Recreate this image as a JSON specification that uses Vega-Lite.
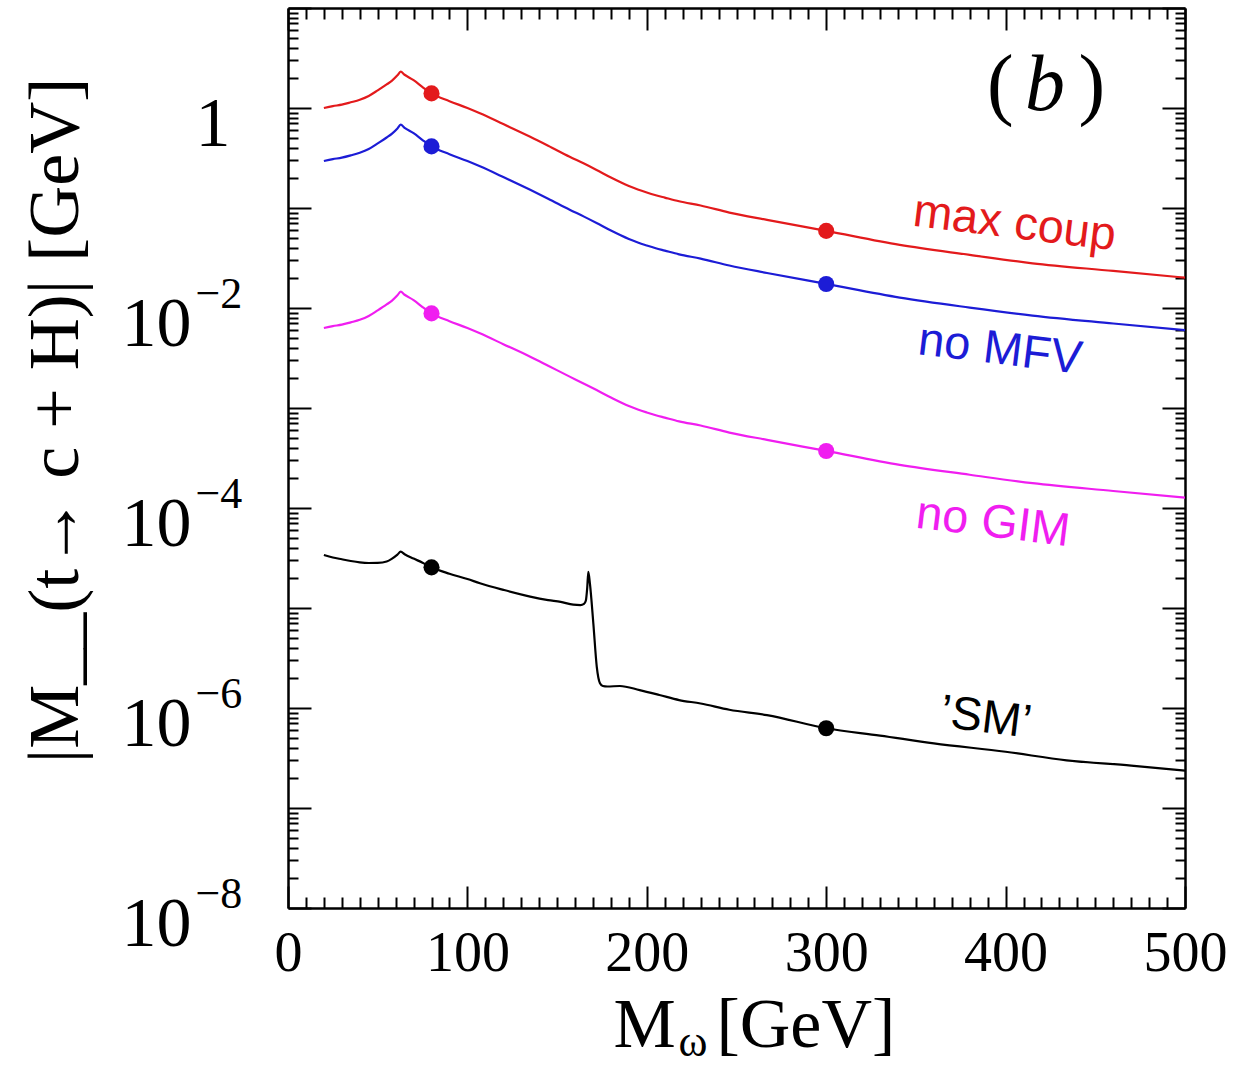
{
"$schema": "https://vega.github.io/schema/vega-lite/v6.json",
"width": 897, "height": 900,
"autosize": {"type": "none"},
"padding": {"left": 288, "top": 8, "right": 64, "bottom": 158},
"background": "white",
"config": {"view": {"stroke": null},
  "axis": {"grid": false, "domainColor": "black", "tickColor": "black", "tickWidth": 2, "domainWidth": 2.5, "labelColor": "black", "titleColor": "black", "labelFont": "Liberation Serif", "titleFont": "Liberation Serif", "titleFontWeight": "normal", "labelOverlap": false, "labelFlush": false, "labelBound": false}},
"datasets": {
 "curves": [
  {"s":"max coup","m":20,"v":1.0},{"s":"max coup","m":25,"v":1.045},{"s":"max coup","m":30,"v":1.08},{"s":"max coup","m":35,"v":1.14},{"s":"max coup","m":40,"v":1.21},{"s":"max coup","m":45,"v":1.32},{"s":"max coup","m":50,"v":1.5},{"s":"max coup","m":55,"v":1.72},{"s":"max coup","m":58,"v":1.88},{"s":"max coup","m":61,"v":2.12},{"s":"max coup","m":62.8,"v":2.31},{"s":"max coup","m":65,"v":2.15},{"s":"max coup","m":70,"v":1.9},{"s":"max coup","m":75,"v":1.62},{"s":"max coup","m":80,"v":1.4},{"s":"max coup","m":90,"v":1.17},{"s":"max coup","m":100,"v":1.0},{"s":"max coup","m":107,"v":0.885},{"s":"max coup","m":120,"v":0.69},{"s":"max coup","m":135,"v":0.516},{"s":"max coup","m":145,"v":0.42},{"s":"max coup","m":157,"v":0.326},{"s":"max coup","m":165,"v":0.278},{"s":"max coup","m":172,"v":0.24},{"s":"max coup","m":180,"v":0.2018},{"s":"max coup","m":190,"v":0.166},{"s":"max coup","m":195,"v":0.1531},{"s":"max coup","m":200,"v":0.1429},{"s":"max coup","m":205,"v":0.1343},{"s":"max coup","m":210,"v":0.1271},{"s":"max coup","m":218,"v":0.1167},{"s":"max coup","m":230,"v":0.1059},{"s":"max coup","m":246,"v":0.09},{"s":"max coup","m":267,"v":0.076},{"s":"max coup","m":300,"v":0.059},{"s":"max coup","m":341,"v":0.0427},{"s":"max coup","m":380,"v":0.034},{"s":"max coup","m":415,"v":0.028},{"s":"max coup","m":460,"v":0.0235},{"s":"max coup","m":500,"v":0.0201},
  {"s":"no MFV","m":20,"v":0.295},{"s":"no MFV","m":25,"v":0.308},{"s":"no MFV","m":30,"v":0.319},{"s":"no MFV","m":35,"v":0.336},{"s":"no MFV","m":40,"v":0.357},{"s":"no MFV","m":45,"v":0.389},{"s":"no MFV","m":50,"v":0.443},{"s":"no MFV","m":55,"v":0.507},{"s":"no MFV","m":58,"v":0.555},{"s":"no MFV","m":61,"v":0.625},{"s":"no MFV","m":62.8,"v":0.681},{"s":"no MFV","m":65,"v":0.634},{"s":"no MFV","m":70,"v":0.56},{"s":"no MFV","m":75,"v":0.478},{"s":"no MFV","m":80,"v":0.413},{"s":"no MFV","m":90,"v":0.345},{"s":"no MFV","m":100,"v":0.295},{"s":"no MFV","m":107,"v":0.261},{"s":"no MFV","m":120,"v":0.204},{"s":"no MFV","m":135,"v":0.152},{"s":"no MFV","m":145,"v":0.124},{"s":"no MFV","m":157,"v":0.0962},{"s":"no MFV","m":165,"v":0.082},{"s":"no MFV","m":172,"v":0.0708},{"s":"no MFV","m":180,"v":0.0595},{"s":"no MFV","m":190,"v":0.049},{"s":"no MFV","m":195,"v":0.0452},{"s":"no MFV","m":200,"v":0.0422},{"s":"no MFV","m":205,"v":0.0396},{"s":"no MFV","m":210,"v":0.0375},{"s":"no MFV","m":218,"v":0.0344},{"s":"no MFV","m":230,"v":0.0312},{"s":"no MFV","m":246,"v":0.0266},{"s":"no MFV","m":267,"v":0.0224},{"s":"no MFV","m":300,"v":0.0174},{"s":"no MFV","m":341,"v":0.0127},{"s":"no MFV","m":380,"v":0.0101},{"s":"no MFV","m":415,"v":0.0084},{"s":"no MFV","m":460,"v":0.007},{"s":"no MFV","m":500,"v":0.006},
  {"s":"no GIM","m":20,"v":0.00631},{"s":"no GIM","m":25,"v":0.00659},{"s":"no GIM","m":30,"v":0.00681},{"s":"no GIM","m":35,"v":0.00719},{"s":"no GIM","m":40,"v":0.00763},{"s":"no GIM","m":45,"v":0.00833},{"s":"no GIM","m":50,"v":0.00947},{"s":"no GIM","m":55,"v":0.01085},{"s":"no GIM","m":58,"v":0.01186},{"s":"no GIM","m":61,"v":0.01338},{"s":"no GIM","m":62.8,"v":0.01458},{"s":"no GIM","m":65,"v":0.01357},{"s":"no GIM","m":70,"v":0.012},{"s":"no GIM","m":75,"v":0.01022},{"s":"no GIM","m":80,"v":0.00883},{"s":"no GIM","m":90,"v":0.00738},{"s":"no GIM","m":100,"v":0.00631},{"s":"no GIM","m":107,"v":0.00558},{"s":"no GIM","m":120,"v":0.00435},{"s":"no GIM","m":135,"v":0.00326},{"s":"no GIM","m":145,"v":0.00265},{"s":"no GIM","m":157,"v":0.00206},{"s":"no GIM","m":165,"v":0.00175},{"s":"no GIM","m":172,"v":0.00151},{"s":"no GIM","m":180,"v":0.001273},{"s":"no GIM","m":190,"v":0.001047},{"s":"no GIM","m":195,"v":0.000966},{"s":"no GIM","m":200,"v":0.000902},{"s":"no GIM","m":205,"v":0.000847},{"s":"no GIM","m":210,"v":0.000802},{"s":"no GIM","m":218,"v":0.000736},{"s":"no GIM","m":230,"v":0.000668},{"s":"no GIM","m":246,"v":0.000568},{"s":"no GIM","m":267,"v":0.00048},{"s":"no GIM","m":300,"v":0.000372},{"s":"no GIM","m":341,"v":0.00027},{"s":"no GIM","m":380,"v":0.000215},{"s":"no GIM","m":415,"v":0.000177},{"s":"no GIM","m":460,"v":0.000148},{"s":"no GIM","m":500,"v":0.000127},
  {"s":"SM","m":20,"v":3.39e-5},{"s":"SM","m":25,"v":3.2e-5},{"s":"SM","m":30,"v":3.07e-5},{"s":"SM","m":35,"v":2.95e-5},{"s":"SM","m":40,"v":2.86e-5},{"s":"SM","m":45,"v":2.82e-5},{"s":"SM","m":50,"v":2.83e-5},{"s":"SM","m":55,"v":2.92e-5},{"s":"SM","m":58,"v":3.12e-5},{"s":"SM","m":61,"v":3.42e-5},{"s":"SM","m":62.8,"v":3.66e-5},{"s":"SM","m":65,"v":3.45e-5},{"s":"SM","m":70,"v":3.12e-5},{"s":"SM","m":75,"v":2.84e-5},{"s":"SM","m":80,"v":2.55e-5},{"s":"SM","m":90,"v":2.2e-5},{"s":"SM","m":100,"v":1.95e-5},{"s":"SM","m":107,"v":1.77e-5},{"s":"SM","m":120,"v":1.52e-5},{"s":"SM","m":135,"v":1.3e-5},{"s":"SM","m":145,"v":1.2e-5},{"s":"SM","m":152,"v":1.15e-5},{"s":"SM","m":159,"v":1.08e-5},{"s":"SM","m":163,"v":1.07e-5},{"s":"SM","m":165,"v":1.1e-5},{"s":"SM","m":166,"v":1.18e-5},{"s":"SM","m":166.8,"v":1.6e-5},{"s":"SM","m":167.4,"v":2.3e-5},{"s":"SM","m":168.3,"v":1.75e-5},{"s":"SM","m":170.2,"v":7.0e-6},{"s":"SM","m":172.1,"v":2.6e-6},{"s":"SM","m":173.9,"v":1.77e-6},{"s":"SM","m":175.5,"v":1.66e-6},{"s":"SM","m":178,"v":1.64e-6},{"s":"SM","m":185,"v":1.66e-6},{"s":"SM","m":196,"v":1.51e-6},{"s":"SM","m":207,"v":1.35e-6},{"s":"SM","m":218,"v":1.2e-6},{"s":"SM","m":230,"v":1.11e-6},{"s":"SM","m":246,"v":9.6e-7},{"s":"SM","m":267,"v":8.5e-7},{"s":"SM","m":300,"v":6.27e-7},{"s":"SM","m":330,"v":5.3e-7},{"s":"SM","m":360,"v":4.43e-7},{"s":"SM","m":400,"v":3.65e-7},{"s":"SM","m":434,"v":3.0e-7},{"s":"SM","m":470,"v":2.65e-7},{"s":"SM","m":500,"v":2.36e-7}
 ],
 "dots": [
  {"s":"max coup","m":80,"v":1.4},{"s":"max coup","m":300,"v":0.059},
  {"s":"no MFV","m":80,"v":0.413},{"s":"no MFV","m":300,"v":0.0174},
  {"s":"no GIM","m":80,"v":0.00883},{"s":"no GIM","m":300,"v":0.000372},
  {"s":"SM","m":80,"v":2.55e-5},{"s":"SM","m":300,"v":6.27e-7}
 ],
 "labels": [
  {"s":"max coup","t":"max coup","m":405,"v":0.0692},
  {"s":"no MFV","t":"no MFV","m":397,"v":0.0038},
  {"s":"no GIM","t":"no GIM","m":393,"v":7.1e-5},
  {"s":"SM","t":"’SM’","m":389,"v":7.9e-7}
 ],
 "parens": [{"t":"(","m":397,"v":0.955},{"t":")","m":448,"v":0.955}],
 "panel": [{"t":"b","m":422,"v":0.955}]
},
"layer": [
 {"data": {"name": "curves"},
  "mark": {"type": "line", "strokeWidth": 2.2, "clip": true, "interpolate": "monotone"},
  "encoding": {
   "x": {"field": "m", "type": "quantitative", "scale": {"domain": [0, 500], "nice": false, "zero": false},
     "axis": {"orient": "bottom", "values": [0,100,200,300,400,500], "tickSize": -22, "labelFontSize": 56, "labelPadding": 40,
       "title": "M", "titleFontSize": 70, "titleX": 325, "titleY": 138, "titleAlign": "left", "titleBaseline": "alphabetic"}},
   "y": {"field": "v", "type": "quantitative", "scale": {"type": "log", "domain": [1e-8, 10], "nice": false},
     "axis": {"orient": "left", "values": [1e-8,1e-7,1e-6,1e-5,1e-4,1e-3,0.01,0.1,1,10], "tickSize": -23,
       "labelExpr": "(round(log(datum.value)/LN10) % 2 == 0 && datum.value < 0.5) ? '10' : ''",
       "labelFontSize": 70, "labelPadding": 120, "labelBaseline": "middle", "labelOffset": 16,
       "title": "|M__(t→ c + H)| [GeV]", "titleFontSize": 72, "titleAngle": 270, "titleX": -233, "titleY": 412, "titleAlign": "center", "titleBaseline": "middle"}},
   "color": {"field": "s", "type": "nominal", "scale": {"domain": ["max coup","no MFV","no GIM","SM"], "range": ["#e31a1c","#1c1cd6","#f01ef0","#000000"]}, "legend": null}
  }},
 {"data": {"name": "dots"},
  "mark": {"type": "point", "filled": true, "size": 260, "opacity": 1},
  "encoding": {
   "x": {"field": "m", "type": "quantitative",
     "axis": {"orient": "bottom", "values": [10,20,30,40,50,60,70,80,90,110,120,130,140,150,160,170,180,190,210,220,230,240,250,260,270,280,290,310,320,330,340,350,360,370,380,390,410,420,430,440,450,460,470,480,490], "tickSize": -11, "labels": false, "domain": false,
       "title": "ω", "titleFontSize": 44, "titleX": 390, "titleY": 147, "titleAlign": "left", "titleBaseline": "alphabetic"}},
   "y": {"field": "v", "type": "quantitative",
     "axis": {"orient": "left", "values": [2e-8,3e-8,4e-8,5e-8,6e-8,7e-8,8e-8,9e-8,2e-7,3e-7,4e-7,5e-7,6e-7,7e-7,8e-7,9e-7,2e-6,3e-6,4e-6,5e-6,6e-6,7e-6,8e-6,9e-6,2e-5,3e-5,4e-5,5e-5,6e-5,7e-5,8e-5,9e-5,2e-4,3e-4,4e-4,5e-4,6e-4,7e-4,8e-4,9e-4,0.002,0.003,0.004,0.005,0.006,0.007,0.008,0.009,0.02,0.03,0.04,0.05,0.06,0.07,0.08,0.09,0.2,0.3,0.4,0.5,0.6,0.7,0.8,0.9,2,3,4,5,6,7,8,9], "tickSize": -10, "labels": false, "domain": false, "title": null}},
   "color": {"field": "s", "type": "nominal", "legend": null}
  }},
 {"data": {"name": "labels"},
  "mark": {"type": "text", "font": "Liberation Sans", "fontSize": 47, "angle": 7, "align": "center", "baseline": "middle"},
  "encoding": {
   "x": {"field": "m", "type": "quantitative",
     "axis": {"orient": "top", "values": [0,100,200,300,400,500], "tickSize": -22, "labels": false, "title": null}},
   "y": {"field": "v", "type": "quantitative",
     "axis": {"orient": "left", "values": [1e-8,1e-6,1e-4,0.01,1], "ticks": false, "tickSize": 0, "domain": false,
       "labelExpr": "datum.value == 1 ? '1' : '−' + (-round(log(datum.value)/LN10))",
       "labelAlign": "left", "labelPadding": 93, "labelBaseline": "middle",
       "labelFontSize": {"condition": {"test": "datum.value == 1", "value": 70}, "value": 44},
       "labelOffset": {"condition": {"test": "datum.value == 1", "value": 16}, "value": -14},
       "title": null}},
   "text": {"field": "t"},
   "color": {"field": "s", "type": "nominal", "legend": null}
  }},
 {"data": {"name": "parens"},
  "mark": {"type": "text", "font": "Liberation Serif", "fontSize": 80, "align": "center", "baseline": "alphabetic", "color": "black"},
  "encoding": {
   "x": {"field": "m", "type": "quantitative",
     "axis": {"orient": "top", "values": [10,20,30,40,50,60,70,80,90,110,120,130,140,150,160,170,180,190,210,220,230,240,250,260,270,280,290,310,320,330,340,350,360,370,380,390,410,420,430,440,450,460,470,480,490], "tickSize": -11, "labels": false, "domain": false, "title": null}},
   "y": {"field": "v", "type": "quantitative",
     "axis": {"orient": "right", "values": [1e-8,1e-7,1e-6,1e-5,1e-4,1e-3,0.01,0.1,1,10], "tickSize": -23, "labels": false, "title": null}},
   "text": {"field": "t"}
  }},
 {"data": {"name": "panel"},
  "mark": {"type": "text", "font": "Liberation Serif", "fontStyle": "italic", "fontSize": 80, "align": "center", "baseline": "alphabetic", "color": "black"},
  "encoding": {
   "x": {"field": "m", "type": "quantitative",
     "axis": {"orient": "bottom", "ticks": false, "tickSize": 0, "labels": false, "domain": false,
       "title": "[GeV]", "titleFontSize": 70, "titleX": 428, "titleY": 138, "titleAlign": "left", "titleBaseline": "alphabetic"}},
   "y": {"field": "v", "type": "quantitative",
     "axis": {"orient": "right", "values": [2e-8,3e-8,4e-8,5e-8,6e-8,7e-8,8e-8,9e-8,2e-7,3e-7,4e-7,5e-7,6e-7,7e-7,8e-7,9e-7,2e-6,3e-6,4e-6,5e-6,6e-6,7e-6,8e-6,9e-6,2e-5,3e-5,4e-5,5e-5,6e-5,7e-5,8e-5,9e-5,2e-4,3e-4,4e-4,5e-4,6e-4,7e-4,8e-4,9e-4,0.002,0.003,0.004,0.005,0.006,0.007,0.008,0.009,0.02,0.03,0.04,0.05,0.06,0.07,0.08,0.09,0.2,0.3,0.4,0.5,0.6,0.7,0.8,0.9,2,3,4,5,6,7,8,9], "tickSize": -10, "labels": false, "domain": false, "title": null}},
   "text": {"field": "t"}
  }}
],
"resolve": {"axis": {"x": "independent", "y": "independent"}}
}
